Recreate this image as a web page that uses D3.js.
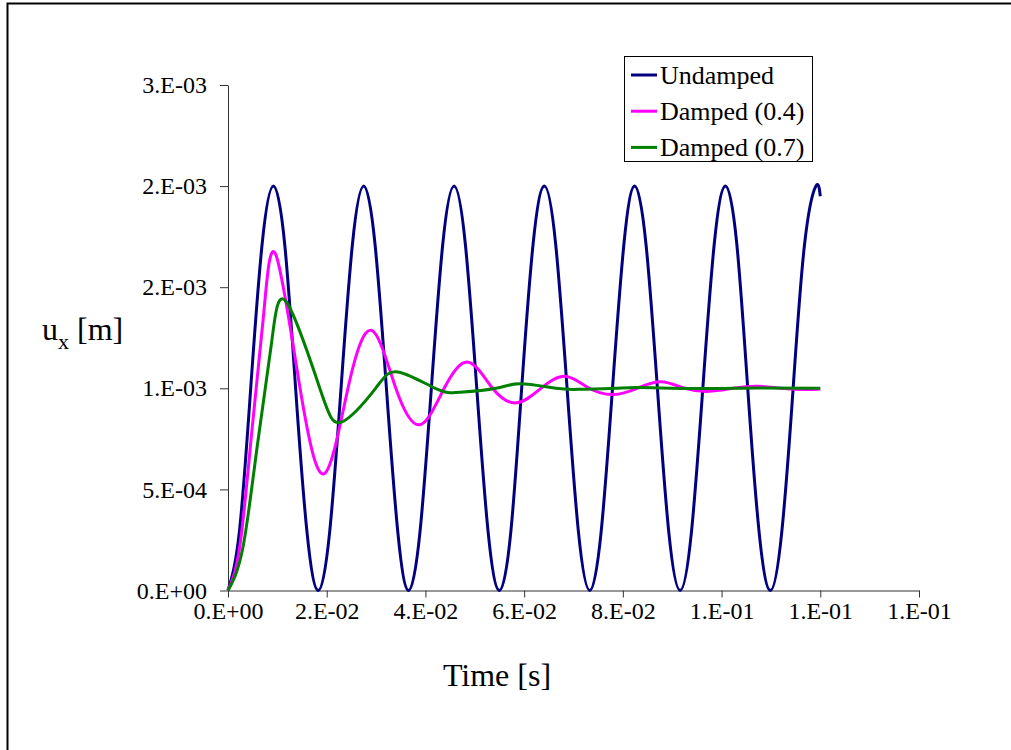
<!DOCTYPE html>
<html>
<head>
<meta charset="utf-8">
<script src="https://cdn.jsdelivr.net/npm/d3@7"></script>
<style>
  body { margin: 0; background: #fff; }
  svg text { font-family: "Liberation Serif", "DejaVu Serif", serif !important; fill: #000; }
</style>
</head>
<body>
<div id="chart"></div>
<script>
// displacement values are in mm (1e-3 m), time in s
const undampedTime = [
  0, 0.0023, 0.0046, 0.0069, 0.0092, 0.0115, 0.0137, 0.0160,
  0.0183, 0.0206, 0.0229, 0.0252, 0.0275, 0.0298, 0.0321, 0.0344,
  0.0366, 0.0389, 0.0412, 0.0435, 0.0458, 0.0481, 0.0504, 0.0527,
  0.0550, 0.0573, 0.0595, 0.0618, 0.0641, 0.0664, 0.0687, 0.0710,
  0.0733, 0.0756, 0.0779, 0.0802, 0.0824, 0.0847, 0.0870, 0.0893,
  0.0916, 0.0939, 0.0962, 0.0985, 0.1008, 0.1031, 0.1053, 0.1076,
  0.1099, 0.1122, 0.1145, 0.1168, 0.1191, 0.1200
];
const undampedU = [
  0, 0.29, 1, 1.71, 2, 1.71, 1, 0.29,
  0, 0.29, 1, 1.71, 2, 1.71, 1, 0.29,
  0, 0.29, 1, 1.71, 2, 1.71, 1, 0.29,
  0, 0.29, 1, 1.71, 2, 1.71, 1, 0.29,
  0, 0.29, 1, 1.71, 2, 1.71, 1, 0.29,
  0, 0.29, 1, 1.71, 2, 1.71, 1, 0.29,
  0, 0.29, 1, 1.71, 2, 1.95
];

const damped04Time = [
  0, 0.0024, 0.0048, 0.0072, 0.0097, 0.0146, 0.0195, 0.0243, 0.0291,
  0.0340, 0.0389, 0.0438, 0.0487, 0.0536, 0.0585, 0.0634, 0.0683,
  0.0732, 0.0781, 0.0829, 0.0877, 0.0926, 0.0974, 0.1023, 0.1072,
  0.1121, 0.1170, 0.1200
];
const damped04U = [
  0, 0.22, 0.78, 1.36, 1.66, 1.0, 0.578, 1.0, 1.286,
  1.0, 0.82, 1.0, 1.129, 1.0, 0.928, 1.0, 1.059,
  1.0, 0.969, 1.0, 1.032, 1.0, 0.985, 1.0, 1.010,
  1.0, 0.994, 0.997
];

const damped07Time = [
  0, 0.0030, 0.0059, 0.0088, 0.0118, 0.0186, 0.0231, 0.0299, 0.0345,
  0.0420, 0.0470, 0.0543, 0.0592, 0.0664, 0.0712, 0.0784, 0.0832,
  0.0950, 0.1070, 0.1200
];
const damped07U = [
  0, 0.21, 0.71, 1.22, 1.428, 1.0, 0.834, 1.0, 1.081,
  1.0, 0.980, 1.0, 1.022, 1.0, 0.995, 1.0, 1.004,
  0.999, 1.001, 1.0
];

const seriesNames = ['Undamped', 'Damped (0.4)', 'Damped (0.7)'];
const seriesColors = ['#000080', '#ff00ff', '#008000'];

const xTicks = [0, 0.02, 0.04, 0.06, 0.08, 0.10, 0.12, 0.14];
const xTickLabels = ['0.E+00', '2.E-02', '4.E-02', '6.E-02', '8.E-02', '1.E-01', '1.E-01', '1.E-01'];
const yTicks = [0, 0.5, 1, 1.5, 2, 2.5];
const yTickLabels = ['0.E+00', '5.E-04', '1.E-03', '2.E-03', '2.E-03', '3.E-03'];

const serif = '"Liberation Serif", "DejaVu Serif", serif';
const svgWidth = 1011, svgHeight = 750;
const plot = { left: 228, right: 919, top: 85, bottom: 590.5 };

const svg = d3.select('#chart').append('svg')
  .attr('width', svgWidth)
  .attr('height', svgHeight)
  .attr('font-family', serif);

// outer frame (right and bottom run off the picture)
svg.append('rect')
  .attr('x', 7.5).attr('y', 3.5)
  .attr('width', 1012).attr('height', 760)
  .attr('fill', 'none').attr('stroke', '#000').attr('stroke-width', 2);

const x = d3.scaleLinear().domain([0, 0.14]).range([plot.left, plot.right]);
const y = d3.scaleLinear().domain([0, 2.5]).range([plot.bottom, plot.top]);

const xAxis = svg.append('g')
  .attr('transform', 'translate(0,' + plot.bottom + ')')
  .call(d3.axisBottom(x).tickValues(xTicks).tickFormat((d, i) => xTickLabels[i])
    .tickSize(7).tickSizeOuter(0));
xAxis.attr('font-family', serif);
xAxis.selectAll('text')
  .attr('y', 28).attr('dy', null)
  .style('font-size', '24px');

const yAxis = svg.append('g')
  .attr('transform', 'translate(' + plot.left + ',0)')
  .call(d3.axisLeft(y).tickValues(yTicks).tickFormat((d, i) => yTickLabels[i])
    .tickSize(8).tickSizeOuter(0).tickPadding(13));
yAxis.attr('font-family', serif);
yAxis.selectAll('text').style('font-size', '24px');

svg.selectAll('.domain, .tick line').attr('stroke', '#333');

// axis titles
svg.append('text')
  .attr('x', 497).attr('y', 686)
  .attr('text-anchor', 'middle')
  .style('font-size', '32px')
  .text('Time [s]');

const yTitle = svg.append('text')
  .attr('x', 42).attr('y', 340)
  .style('font-size', '32px');
yTitle.append('tspan').text('u');
yTitle.append('tspan').attr('dy', 9).style('font-size', '22px').text('x');
yTitle.append('tspan').attr('dy', -9).text(' [m]');

// curves
const line = d3.line()
  .x(d => x(d[0]))
  .y(d => y(d[1]))
  .curve(d3.curveNatural);

const series = [
  d3.zip(undampedTime, undampedU),
  d3.zip(damped04Time, damped04U),
  d3.zip(damped07Time, damped07U)
];

svg.append('g').selectAll('path')
  .data(series)
  .enter().append('path')
  .attr('d', line)
  .attr('fill', 'none')
  .attr('stroke', (d, i) => seriesColors[i])
  .attr('stroke-width', 3);

// legend
const legend = svg.append('g');
legend.append('rect')
  .attr('x', 624.5).attr('y', 56.5)
  .attr('width', 188).attr('height', 105)
  .attr('fill', '#fff').attr('stroke', '#000').attr('stroke-width', 1);

const legendRows = legend.selectAll('g.row')
  .data(seriesNames)
  .enter().append('g')
  .attr('class', 'row')
  .attr('transform', (d, i) => 'translate(0,' + (75 + i * 36.2) + ')');
legendRows.append('line')
  .attr('x1', 631).attr('x2', 657)
  .attr('stroke', (d, i) => seriesColors[i])
  .attr('stroke-width', 3);
legendRows.append('text')
  .attr('x', 660).attr('dy', '0.33em')
  .style('font-size', '26px')
  .text(d => d);
</script>
</body>
</html>
